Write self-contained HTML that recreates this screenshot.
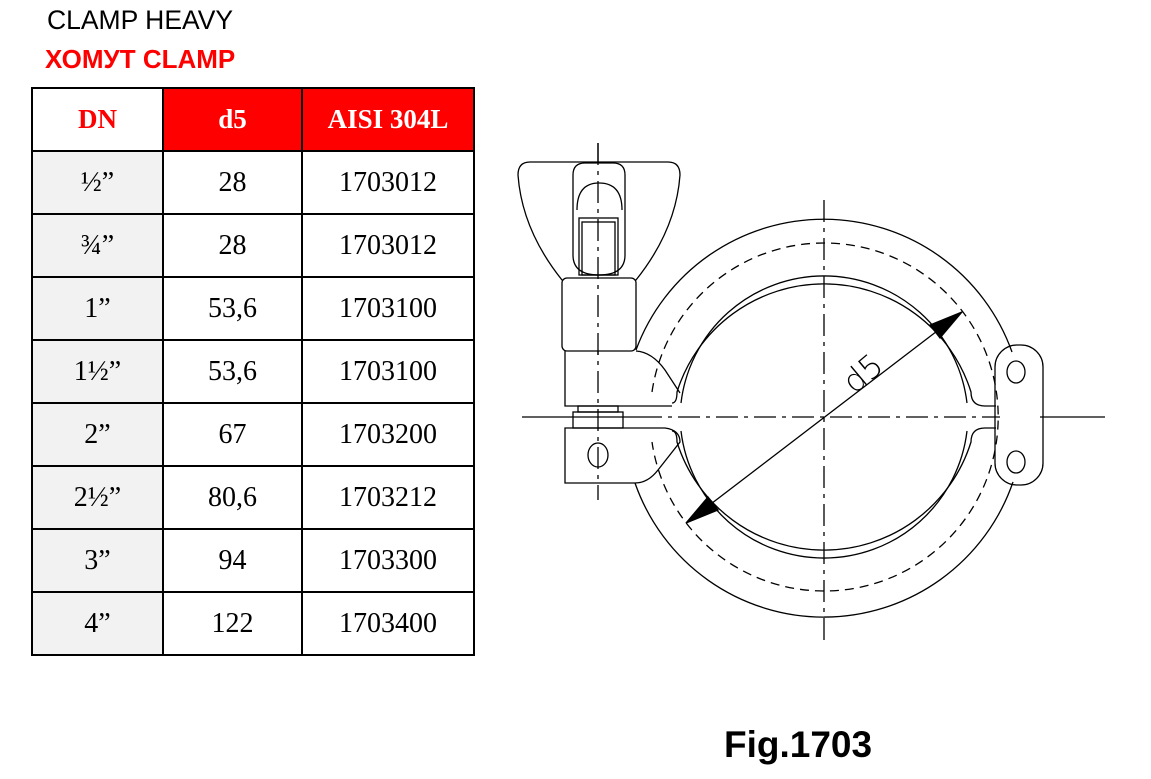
<!DOCTYPE html>
<html><head><meta charset="utf-8"><style>
body{margin:0;width:1151px;height:779px;background:#fff;position:relative;overflow:hidden;font-family:"Liberation Sans",sans-serif}
.t1{position:absolute;left:47px;top:5px;font-size:26.5px;color:#000}
.t2{position:absolute;left:45px;top:44px;font-size:26px;color:#f00;font-weight:bold}
table{position:absolute;left:31px;top:87px;border-collapse:collapse;font-family:"Liberation Serif",serif;font-size:28px;table-layout:fixed}
td{border:2px solid #000;text-align:center;height:61px;padding:0}
.h td{font-weight:bold;color:#fff;background:#f00;font-size:27px}
.h td.dn{background:#fff;color:#f00}
td.g{background:#f2f2f2}
.fig{position:absolute;left:724px;top:724px;font-size:37px;font-weight:bold}
</style></head><body>
<div class="t1">CLAMP HEAVY</div>
<div class="t2">ХОМУТ CLAMP</div>
<table>
<tr class="h"><td class="dn" style="width:129px">DN</td><td style="width:137px">d5</td><td style="width:170px">AISI 304L</td></tr>
<tr><td class="g">½”</td><td>28</td><td>1703012</td></tr>
<tr><td class="g">¾”</td><td>28</td><td>1703012</td></tr>
<tr><td class="g">1”</td><td>53,6</td><td>1703100</td></tr>
<tr><td class="g">1½”</td><td>53,6</td><td>1703100</td></tr>
<tr><td class="g">2”</td><td>67</td><td>1703200</td></tr>
<tr><td class="g">2½”</td><td>80,6</td><td>1703212</td></tr>
<tr><td class="g">3”</td><td>94</td><td>1703300</td></tr>
<tr><td class="g">4”</td><td>122</td><td>1703400</td></tr>
</table>
<svg width="1151" height="779" style="position:absolute;left:0;top:0" fill="none" stroke="#000" stroke-width="1.3">
<path d="M636 350 A200 200 0 0 1 1012 352"/>
<path d="M635 483 A200 200 0 0 0 1013 482"/>
<path d="M652 392 A174 174 0 1 1 652 442" stroke-dasharray="9 6"/>
<path d="M672 403 Q677 403 677 392 A154 154 0 0 1 971 392 Q971 406 985 406 L996 406"/>
<path d="M681 403 A144 144 0 0 1 967 403"/>
<path d="M672 431 Q677 431 677 442 A154 154 0 0 0 971 442 Q971 428 985 428 L996 428"/>
<path d="M681 431 A144 144 0 0 0 967 431"/>
<rect x="995" y="345" width="48" height="140" rx="22"/>
<ellipse cx="1016" cy="372" rx="9" ry="11"/>
<ellipse cx="1016" cy="462" rx="9" ry="11"/>
<line x1="522" y1="417" x2="640" y2="417"/>
<line x1="640" y1="417" x2="1000" y2="417" stroke-dasharray="22 6 4 6"/>
<line x1="1040" y1="417" x2="1105" y2="417"/>
<line x1="824" y1="200" x2="824" y2="640" stroke-dasharray="22 6 4 6"/>
<line x1="598" y1="143" x2="598" y2="500" stroke-dasharray="22 6 4 6"/>
<path d="M530 162 L668 162 Q680 162 680 175 Q676 230 636 280 L562 280 Q522 230 518 175 Q518 162 530 162Z" fill="#fff"/>
<path d="M573 175 Q573 163 585 163 L613 163 Q625 163 625 175 L625 255 Q625 275 599 275 Q573 275 573 255Z"/>
<path d="M577 210 Q577 183 599 183 Q622 183 622 210"/>
<rect x="579" y="218" width="39" height="57"/><rect x="582" y="222" width="33" height="53"/>
<rect x="562" y="278" width="74" height="73" rx="5" fill="#fff"/>
<line x1="598" y1="143" x2="598" y2="360" stroke-dasharray="22 6 4 6"/>
<path d="M565 351 L565 406 L672 406 M636 351 Q652 352 665 370 L680 393"/>
<rect x="578" y="406" width="40" height="6"/><rect x="573" y="412" width="50" height="16"/>
<path d="M565 428 L665 428 Q680 430 680 442 L658 470 Q648 483 635 483 L565 483Z"/>
<ellipse cx="598" cy="455" rx="10" ry="12"/>
<line x1="686" y1="523" x2="962" y2="312"/>
<polygon points="962,312 940,338 930,325" fill="#000"/>
<polygon points="686,523 708,497 718,510" fill="#000"/>
</svg>
<div style="position:absolute;left:835px;top:372px;font-size:32px;transform:rotate(-40deg);transform-origin:left top;font-family:'DejaVu Sans',sans-serif;font-weight:200;color:#000">d5</div>
<div class="fig">Fig.1703</div>
</body></html>
